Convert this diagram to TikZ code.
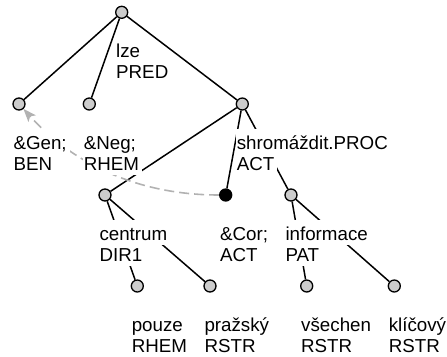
\documentclass[tikz,border=0pt]{standalone}
\usepackage{fontspec}
\setmainfont{Liberation Sans}
\usetikzlibrary{arrows.meta}

\definecolor{vertexfill}{RGB}{204,204,204}
\definecolor{corefline}{RGB}{178,178,178}

\pgfdeclarelayer{edges}
\pgfsetlayers{edges,main}

% one text line with a white strip behind it (strip only, text is set later)
\newcommand\stripline[1]{\setbox0=\hbox{#1}%
  \hbox{\kern-0.5pt\rlap{\textcolor{white}{\rule[-5pt]{\dimexpr\wd0+3.5pt\relax}{25pt}}}\kern0.5pt\hbox to \wd0{\hfil}}}

% two-line tag: white strips first, then both lines of text on top
\newcommand\twotag[2]{%
  \rlap{\vtop{\lineskiplimit=-\maxdimen\baselineskip=21pt\stripline{#1}\stripline{#2}}}%
  \vtop{\lineskiplimit=-\maxdimen\baselineskip=21pt\hbox{#1}\hbox{#2}}}

\tikzset{
  vertex/.style={circle, draw=black, line width=1.3pt, fill=vertexfill,
    minimum size=12pt, inner sep=0pt},
  corefvertex/.style={vertex, fill=black},
  branch/.style={draw=black, line width=1.5pt},
  corefarrow/.style={draw=corefline, line width=1.6pt, dash pattern=on 10pt off 5pt,
    -{Stealth[length=13pt,width=10pt,inset=3pt]}},
  nodetag/.style={anchor=base west, inner sep=0pt, outer sep=0pt,
    font=\fontsize{18.75pt}{21pt}\selectfont}
}

\begin{document}
\begin{tikzpicture}[x=1pt, y=-1pt]
\useasboundingbox (0,0) rectangle (447,356);

% vertices
\node[vertex]      (root)      at (121.7,12.3) {};
\node[vertex]      (gen)       at (19,104)     {};
\node[vertex]      (neg)       at (89.3,104)   {};
\node[vertex]      (shrom)     at (242.3,104)  {};
\node[vertex]      (centrum)   at (105,195)    {};
\node[corefvertex] (cor)       at (225.7,195)  {};
\node[vertex]      (informace) at (291,195)    {};
\node[vertex]      (pouze)     at (137.3,286)  {};
\node[vertex]      (prazsky)   at (210,286)    {};
\node[vertex]      (vsechen)   at (306.7,286)  {};
\node[vertex]      (klicovy)   at (394.3,286)  {};

% edges go underneath the tags
\begin{pgfonlayer}{edges}
\draw[branch] (root) -- (gen);
\draw[branch] (root) -- (neg);
\draw[branch] (root) -- (shrom);
\draw[branch] (shrom) -- (centrum);
\draw[branch] (shrom) -- (cor);
\draw[branch] (shrom) -- (informace);
\draw[branch] (centrum) -- (pouze);
\draw[branch] (centrum) -- (prazsky);
\draw[branch] (informace) -- (vsechen);
\draw[branch] (informace) -- (klicovy);
% coreference arrow
\draw[corefarrow] (cor) .. controls +(-100,0) and +(45,50) .. (gen);
\end{pgfonlayer}

% node tags
\node[nodetag] (root-t)      at ([shift={(-5.5,45)}]root.center)      {\twotag{lze}{PRED}};
\node[nodetag] (gen-t)       at ([shift={(-5.5,45)}]gen.center)       {\twotag{\&Gen;}{BEN}};
\node[nodetag] (neg-t)       at ([shift={(-5.5,45)}]neg.center)       {\twotag{\&Neg;}{RHEM}};
\node[nodetag] (shrom-t)     at ([shift={(-5.5,45)}]shrom.center)     {\twotag{shromáždit.PROC}{ACT}};
\node[nodetag] (centrum-t)   at ([shift={(-5.5,45)}]centrum.center)   {\twotag{centrum}{DIR1}};
\node[nodetag] (cor-t)       at ([shift={(-5.5,45)}]cor.center)       {\twotag{\&Cor;}{ACT}};
\node[nodetag] (informace-t) at ([shift={(-5.5,45)}]informace.center) {\twotag{informace}{PAT}};
\node[nodetag] (pouze-t)     at ([shift={(-5.5,45)}]pouze.center)     {\twotag{pouze}{RHEM}};
\node[nodetag] (prazsky-t)   at ([shift={(-5.5,45)}]prazsky.center)   {\twotag{pražský}{RSTR}};
\node[nodetag] (vsechen-t)   at ([shift={(-5.5,45)}]vsechen.center)   {\twotag{všechen}{RSTR}};
\node[nodetag] (klicovy-t)   at ([shift={(-5.5,45)}]klicovy.center)   {\twotag{klíčový}{RSTR}};
\end{tikzpicture}
\end{document}
